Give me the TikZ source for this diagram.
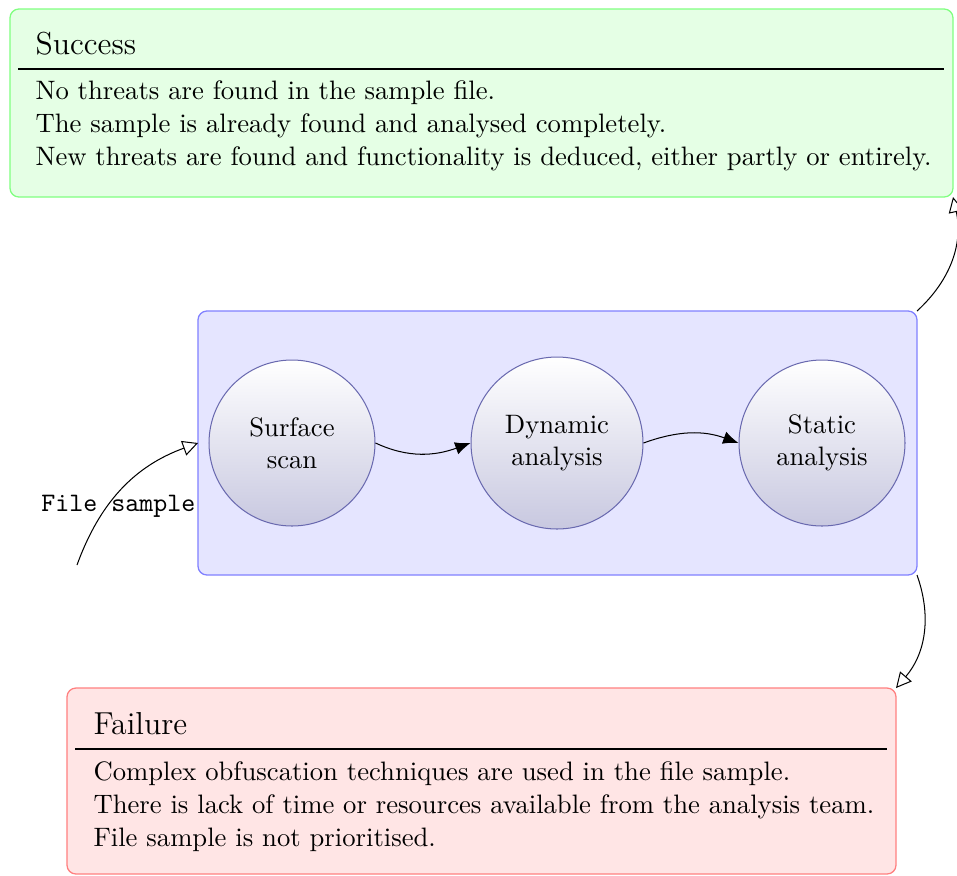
\documentclass[tikz,border=0pt]{standalone}
\usetikzlibrary{arrows.meta,shapes.geometric}
\definecolor{circborder}{RGB}{105,105,175}
\definecolor{circbottom}{RGB}{200,200,224}
\begin{document}
\begin{tikzpicture}[x=0.392pt,y=-0.392pt,
  box/.style={draw, rounded corners=3.5pt, inner sep=0pt, outer sep=0pt, line width=0.5pt},
  stage/.style={circle, draw=circborder, top color=white, bottom color=circbottom, inner sep=0pt, minimum size=65.07pt, align=center, font=\fontsize{10.45}{12.6}\selectfont},
  titletext/.style={anchor=base west, inner sep=0pt, font=\fontsize{12.45}{14.5}\selectfont},
  bodytext/.style={anchor=base west, inner sep=0pt, font=\fontsize{10.45}{13}\selectfont},
  sepline/.style={line width=0.5pt, black},
  flow/.style={-{Latex[length=6pt,width=5pt]}},
  result/.style={-{Triangle[open,length=6pt,width=6pt]}},
]
\useasboundingbox (0,0) rectangle (957,875);

% Success box
\node[box, draw=green!50, fill=green!10, minimum width=369.66pt, minimum height=73.7pt] (success) at (481.5,103) {};
\node[titletext] (successtitle) at (35,54) {Success};
\coordinate (sl) at (18,69);
\coordinate (sr) at (944,69);
\draw[sepline] (sl) -- (sr);
\node[bodytext] (successbody) at (35,99.5) {\begin{tabular}[t]{@{}l@{}}No threats are found in the sample file.\\
The sample is already found and analysed completely.\\
New threats are found and functionality is deduced, either partly or entirely.\end{tabular}};

% Main box
\node[box, draw=blue!50, fill=blue!10, minimum width=281.85pt, minimum height=103.49pt] (main) at (557.5,443) {};
\node[stage] (surface) at (292,443) {Surface\\scan};
\node[stage, minimum size=67.42pt] (dynamic) at (557,443) {Dynamic\\analysis};
\node[stage] (static) at (822,443) {Static\\analysis};
\draw[flow] (surface.east) to[out=-25,in=200] (dynamic.west);
\draw[flow] (dynamic.east) to[out=20,in=160] (static.west);

% Failure box
\node[box, draw=red!50, fill=red!10, minimum width=324.97pt, minimum height=72.91pt] (failure) at (481.5,781) {};
\node[titletext] (failuretitle) at (93,734) {Failure};
\coordinate (fl) at (75,749);
\coordinate (fr) at (887,749);
\draw[sepline] (fl) -- (fr);
\node[bodytext] (failurebody) at (93,780) {\begin{tabular}[t]{@{}l@{}}Complex obfuscation techniques are used in the file sample.\\
There is lack of time or resources available from the analysis team.\\
File sample is not prioritised.\end{tabular}};

% Input arrow
\coordinate (filein) at (77,565);
\draw[result] (filein) to[out=70,in=200] (main.west);
\node[font=\ttfamily\fontsize{10.45}{12.5}\selectfont, anchor=base, inner sep=0pt] (filelabel) at (118.3,511) {File sample};

% Outcome arrows
\draw[result] (main.north east) to[bend right] (success.south east);
\draw[result] (main.south east) to[bend left] (failure.north east);
\end{tikzpicture}
\end{document}
